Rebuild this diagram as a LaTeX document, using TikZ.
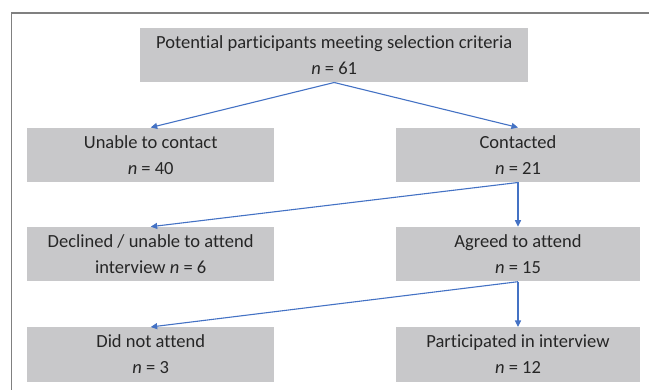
\documentclass[tikz,border=0pt]{standalone}
\usepackage{fontspec}
\setmainfont[Ligatures={NoCommon}]{Carlito}
\usetikzlibrary{arrows.meta}
\definecolor{boxgray}{RGB}{200,200,202}
\definecolor{arrowblue}{RGB}{68,114,196}
\definecolor{framegray}{RGB}{128,128,128}
\begin{document}
\begin{tikzpicture}[x=1pt,y=-1pt,
  flowbox/.style={fill=boxgray, draw=none, minimum height=54.6pt, inner sep=0pt, align=center,
    font=\fontsize{18.5}{26}\selectfont, text=black!85},
  flowarrow/.style={draw=arrowblue, line width=1.1pt, -{Triangle[width=6pt,length=6.5pt]}}]
\useasboundingbox (0,0) rectangle (649,390);
\draw[framegray, line width=1.3pt] (11.7,391) -- (11.7,13) -- (650,13);
\node[flowbox, minimum width=387.5pt] (top) at (334.2,55) {Potential participants meeting selection criteria\\\textit{n} = 61};
\node[flowbox, minimum width=247.4pt] (unable) at (150.7,155) {Unable to contact\\\textit{n} = 40};
\node[flowbox, minimum width=244pt] (contacted) at (518,155) {Contacted\\\textit{n} = 21};
\node[flowbox, minimum width=247.4pt] (declined) at (150.7,254.2) {Declined / unable to attend\\interview \textit{n} = 6};
\node[flowbox, minimum width=244pt] (agreed) at (518,254.2) {Agreed to attend\\\textit{n} = 15};
\node[flowbox, minimum width=247.4pt] (notattend) at (150.7,354.5) {Did not attend\\\textit{n} = 3};
\node[flowbox, minimum width=244pt] (part) at (518,354.5) {Participated in interview\\\textit{n} = 12};
\draw[flowarrow] (top.south) -- (unable.north);
\draw[flowarrow] (top.south) -- (contacted.north);
\draw[flowarrow] (contacted.south) -- (declined.north);
\draw[flowarrow] (contacted.south) -- (agreed.north);
\draw[flowarrow] (agreed.south) -- (notattend.north);
\draw[flowarrow] (agreed.south) -- (part.north);
\end{tikzpicture}
\end{document}
